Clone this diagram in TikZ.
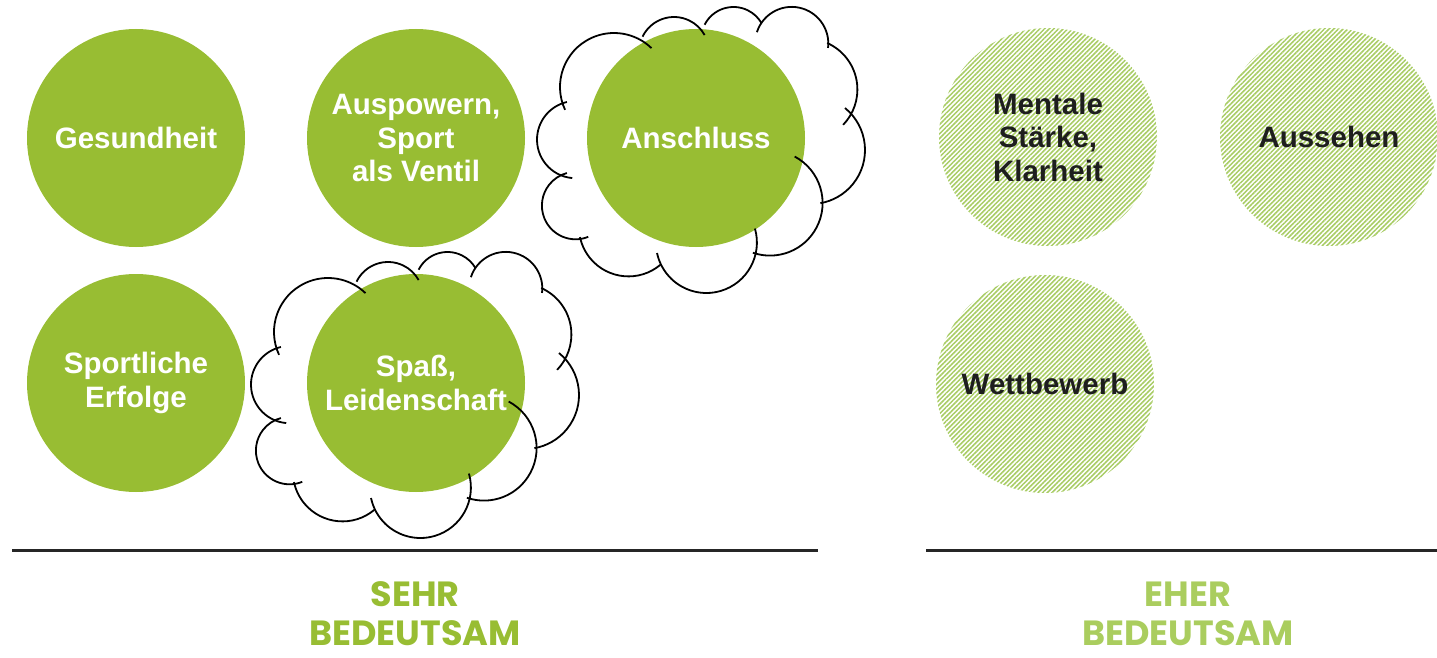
\documentclass[tikz,border=0pt]{standalone}
\usepackage{fontspec}
\setmainfont{Liberation Sans}
\newfontfamily\headfont{Poppins}
\usetikzlibrary{patterns.meta}
\definecolor{motivgreen}{HTML}{98BD33}
\definecolor{hatchgreen}{HTML}{A8CC64}
\definecolor{lightgreen}{HTML}{AACD5E}
\definecolor{textdark}{HTML}{1E1E1E}
\tikzset{
  sehr/.style={circle, fill=motivgreen, minimum size=218pt, inner sep=0pt,
    text=white, align=center, font=\bfseries\fontsize{29.5}{33.5}\selectfont},
  eher/.style={circle, pattern={Lines[angle=45,distance=3.3pt,line width=1.5pt]},
    pattern color=hatchgreen, minimum size=218pt, inner sep=0pt,
    text=textdark, align=center, font=\bfseries\fontsize{29.5}{33.5}\selectfont},
  cloudline/.style={line width=1.8pt, black},
  rule/.style={line width=3pt, black!85},
  heading/.style={align=center, font=\headfont\bfseries\fontsize{35}{39}\selectfont},
  % bumps of the cloud: centre x / centre y / radius / start / end
  cloudring/.pic={
    \foreach \cx/\cy/\r/\s/\e in {-82/-52/54/155/314, -22/-87/35/206/331,
        37.5/-99.6/32.4/207/330, 95.7/-95.5/36.6/198/367, 110.5/-49.5/50.9/294/404,
        115/11/54/309/440, 74/64/52.6/298/469, 10.4/103.5/50.5/-16/168,
        -67.5/87.8/49.6/50/168, -120.4/66.6/33.7/68/255, -120.4/0.6/38.6/95/257}
      \draw[cloudline] (\cx,\cy) ++(\s:\r) arc[start angle=\s, end angle=\e, radius=\r];
  }
}
\begin{document}
\begin{tikzpicture}[x=1pt, y=-1pt]
    \useasboundingbox (0,0) rectangle (1437,658);
    % sehr bedeutsam
    \node[sehr] (gesundheit) at (136,138) {Gesundheit};
    \node[sehr] (auspowern) at (416,138) {Auspowern,\\Sport\\als Ventil};
    \node[sehr] (anschluss) at (696,138) {Anschluss};
    \node[sehr] (erfolge) at (136,383) {Sportliche\\Erfolge};
    \node[sehr] (spass) at (416,383) {Spa\ss,\\Leidenschaft};
    \pic at (696,139) {cloudring};
    \pic at (410,384) {cloudring};
    % eher bedeutsam
    \node[eher] (mentale) at (1048,137) {Mentale\\St\"arke,\\Klarheit};
    \node[eher] (aussehen) at (1329,137) {Aussehen};
    \node[eher] (wettbewerb) at (1045,384) {Wettbewerb};
    \draw[rule] (12,550) -- (818,550);
    \draw[rule] (926,550) -- (1437,550);
    \node[heading, text=motivgreen] (sehrlabel) at (415,614) {SEHR\\BEDEUTSAM};
    \node[heading, text=lightgreen] (eherlabel) at (1188,614) {EHER\\BEDEUTSAM};
\end{tikzpicture}
\end{document}
